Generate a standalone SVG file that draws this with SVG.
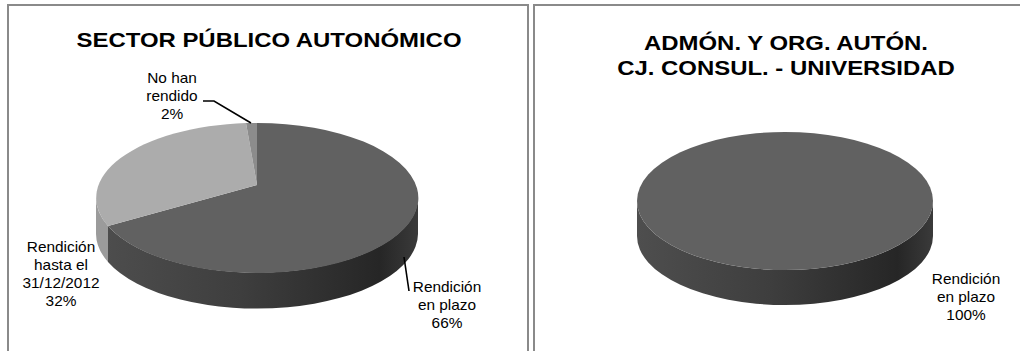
<svg xmlns="http://www.w3.org/2000/svg" width="1020" height="351" viewBox="0 0 1020 351">
<style>
.frame{fill:#fff;stroke:#8a8a8a;stroke-width:2}
.title{font-family:"Liberation Sans",Arial,sans-serif;font-weight:bold;font-size:21px;fill:#000;text-anchor:middle}
.lbl{font-family:"Liberation Sans",Arial,sans-serif;font-size:14px;fill:#000;text-anchor:middle}
.lead{fill:none;stroke:#000;stroke-width:1.6}
.topDark{fill:#616161}
.topLight{fill:#acacac}
.topMid{fill:#8c8c8c}
.sideLight{fill:#9b9b9b}
</style>
<defs>
<linearGradient id="sideL" gradientUnits="userSpaceOnUse" x1="96" y1="0" x2="418" y2="0">
<stop offset="0" stop-color="#4e4e4e"/>
<stop offset="0.45" stop-color="#3e3e3e"/>
<stop offset="0.88" stop-color="#262626"/>
<stop offset="1" stop-color="#3a3a3a"/>
</linearGradient>
<linearGradient id="sideR" gradientUnits="userSpaceOnUse" x1="637" y1="0" x2="933" y2="0">
<stop offset="0" stop-color="#4e4e4e"/>
<stop offset="0.45" stop-color="#3e3e3e"/>
<stop offset="0.88" stop-color="#262626"/>
<stop offset="1" stop-color="#3a3a3a"/>
</linearGradient>
</defs>
<rect width="1020" height="351" fill="#fff"/>

<g id="chart-left">
<rect class="frame" x="8" y="5" width="520" height="360"/>
<text class="title" transform="translate(269,47) scale(1.14,1)">SECTOR PÚBLICO AUTONÓMICO</text>
<g id="slice-plazo-66">
<path fill="url(#sideL)" d="M418 198 L418 234 A161 75 0 0 1 108 262 L108 226 A161 75 0 0 0 418 198 Z"/>
<path class="topDark" d="M257 185 L257 123 A161 75 0 1 1 108 226 Z"/>
</g>
<g id="slice-hasta-32">
<path class="sideLight" d="M108 226 L108 262 A161 75 0 0 1 96 234 L96 198 A161 75 0 0 0 108 226 Z"/>
<path class="topLight" d="M257 185 L108 226 A161 75 0 0 1 246 123 Z"/>
</g>
<g id="slice-norendido-2">
<path class="topMid" d="M257 185 L246 123 A161 75 0 0 1 257 123 Z"/>
</g>
<g id="label-norendido">
<text class="lbl" transform="translate(172,83) scale(1.1,1)">No han</text>
<text class="lbl" transform="translate(172,101) scale(1.1,1)">rendido</text>
<text class="lbl" transform="translate(172,119) scale(1.1,1)">2%</text>
</g>
<g id="label-hasta">
<text class="lbl" transform="translate(61,252) scale(1.1,1)">Rendición</text>
<text class="lbl" transform="translate(61,270) scale(1.1,1)">hasta el</text>
<text class="lbl" transform="translate(61,288) scale(1.1,1)">31/12/2012</text>
<text class="lbl" transform="translate(61,306) scale(1.1,1)">32%</text>
</g>
<g id="label-plazo">
<text class="lbl" transform="translate(447,292) scale(1.1,1)">Rendición</text>
<text class="lbl" transform="translate(447,310) scale(1.1,1)">en plazo</text>
<text class="lbl" transform="translate(447,328) scale(1.1,1)">66%</text>
</g>
</g>

<g id="chart-right">
<rect class="frame" x="534" y="5" width="490" height="360"/>
<text class="title" transform="translate(786,50) scale(1.14,1)">ADMÓN. Y ORG. AUTÓN.</text>
<text class="title" transform="translate(786,75) scale(1.14,1)">CJ. CONSUL. - UNIVERSIDAD</text>
<g id="slice-plazo-100">
<path fill="url(#sideR)" d="M637 201 L637 236 A148 69 0 0 0 933 236 L933 201 A148 69 0 0 1 637 201 Z"/>
<ellipse class="topDark" cx="785" cy="201" rx="148" ry="69"/>
</g>
<g id="label-plazo-100">
<text class="lbl" transform="translate(966,284) scale(1.1,1)">Rendición</text>
<text class="lbl" transform="translate(966,302) scale(1.1,1)">en plazo</text>
<text class="lbl" transform="translate(966,320) scale(1.1,1)">100%</text>
</g>
</g>

<g id="connectors">
<polyline class="lead" points="203,101 214,101 251,123"/>
<line class="lead" x1="404" y1="257" x2="409" y2="291"/>
</g>
</svg>
